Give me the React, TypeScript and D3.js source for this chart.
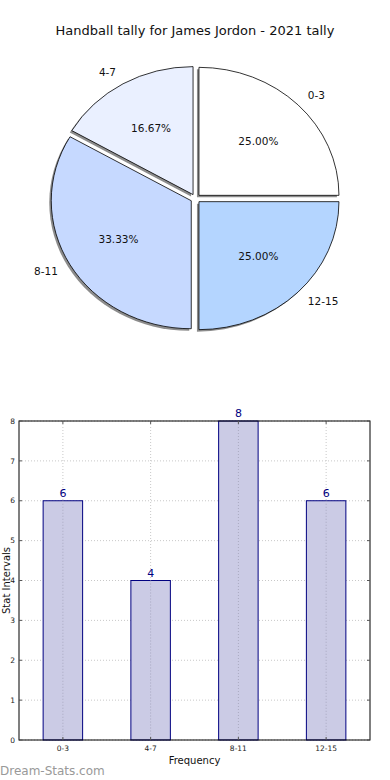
import { useEffect, useRef } from 'react'
import * as d3 from 'd3'

const categories = ['0-3', '4-7', '8-11', '12-15']
const counts = [6, 4, 8, 6]
const pieColors = ['#ffffff', '#eaf0ff', '#c6d9ff', '#b4d5ff']
const yTicks = [0, 1, 2, 3, 4, 5, 6, 7, 8]

const W = 390
const H = 780
const FONT = 'DejaVu Sans, sans-serif'

export default function App() {
  const svgRef = useRef<SVGSVGElement>(null)

  useEffect(() => {
    if (!svgRef.current) return
    const svg = d3.select(svgRef.current)
    svg.selectAll('*').remove()

    // Title
    svg.append('text')
      .attr('x', 195).attr('y', 35)
      .attr('text-anchor', 'middle')
      .attr('font-size', 13)
      .attr('fill', '#111')
      .text('Handball tally for James Jordon - 2021 tally')

    // Pie (elliptical, matplotlib-like: starts at 3 o'clock, counterclockwise)
    const cx = 195.5
    const cy = 198.5
    const rx = 140
    const ry = 128
    const explode = 0.035
    const total = d3.sum(counts)

    const pie = d3.pie<number>()
      .sort(null)
      .startAngle(Math.PI / 2)
      .endAngle(Math.PI / 2 - 2 * Math.PI)
    const arcs = pie(counts)
    const arc = d3.arc<d3.PieArcDatum<number>>().innerRadius(0).outerRadius(1)

    const pg = svg.append('g')
    // shadows first
    arcs.forEach((a) => {
      const m = (a.startAngle + a.endAngle) / 2
      const dx = Math.sin(m) * explode * rx
      const dy = -Math.cos(m) * explode * ry
      pg.append('path')
        .attr('d', arc(a)!)
        .attr('transform', `translate(${cx + dx - 2},${cy + dy + 2}) scale(${rx},${ry})`)
        .attr('fill', '#7f7f7f')
        .attr('opacity', 0.9)
    })
    arcs.forEach((a, i) => {
      const m = (a.startAngle + a.endAngle) / 2
      const dx = Math.sin(m) * explode * rx
      const dy = -Math.cos(m) * explode * ry
      pg.append('path')
        .attr('d', arc(a)!)
        .attr('transform', `translate(${cx + dx},${cy + dy}) scale(${rx},${ry})`)
        .attr('fill', pieColors[i])
        .attr('stroke', '#000')
        .attr('stroke-width', 0.8)
        .attr('vector-effect', 'non-scaling-stroke')

      const ux = Math.sin(m)
      const uy = -Math.cos(m)
      pg.append('text')
        .attr('x', cx + dx + ux * 1.1 * rx)
        .attr('y', cy + dy + uy * 1.1 * ry)
        .attr('dy', '0.35em')
        .attr('text-anchor', ux > 0 ? 'start' : 'end')
        .attr('font-size', 10.5)
        .attr('fill', '#111')
        .text(categories[i])

      pg.append('text')
        .attr('x', cx + dx + ux * 0.6 * rx)
        .attr('y', cy + dy + uy * 0.6 * ry)
        .attr('dy', '0.35em')
        .attr('text-anchor', 'middle')
        .attr('font-size', 10.5)
        .attr('fill', '#111')
        .text(`${((counts[i] / total) * 100).toFixed(2)}%`)
    })

    // Bar chart
    const left = 19
    const right = 370
    const top = 421
    const bottom = 740

    const x = d3.scaleLinear().domain([-0.5, categories.length - 0.5]).range([left, right])
    const y = d3.scaleLinear().domain([0, 8]).range([bottom, top])
    const bw = 0.45

    const bg = svg.append('g')

    // grid
    bg.selectAll('line.hgrid')
      .data(yTicks)
      .join('line')
      .attr('x1', left).attr('x2', right)
      .attr('y1', (d) => y(d)).attr('y2', (d) => y(d))
      .attr('stroke', '#c8c8c8')
      .attr('stroke-dasharray', '1 2')
    bg.selectAll('line.vgrid')
      .data(categories)
      .join('line')
      .attr('x1', (_, i) => x(i)).attr('x2', (_, i) => x(i))
      .attr('y1', top).attr('y2', bottom)
      .attr('stroke', '#c8c8c8')
      .attr('stroke-dasharray', '1 2')

    // bars
    bg.selectAll('rect.bar')
      .data(counts)
      .join('rect')
      .attr('x', (_, i) => x(i - bw / 2))
      .attr('y', (d) => y(d))
      .attr('width', x(bw) - x(0))
      .attr('height', (d) => bottom - y(d))
      .attr('fill', '#cbcbe5')
      .attr('stroke', '#000080')
      .attr('stroke-width', 1)

    // vertical grid shows through the bars in the reference
    bg.selectAll('line.vgrid2')
      .data(categories)
      .join('line')
      .attr('x1', (_, i) => x(i)).attr('x2', (_, i) => x(i))
      .attr('y1', (_, i) => y(counts[i])).attr('y2', bottom)
      .attr('stroke', '#a9a9c0')
      .attr('stroke-dasharray', '1 2')

    // value labels
    bg.selectAll('text.val')
      .data(counts)
      .join('text')
      .attr('x', (_, i) => x(i))
      .attr('y', (d) => y(d) - 4)
      .attr('text-anchor', 'middle')
      .attr('font-size', 11)
      .attr('fill', '#000080')
      .text((d) => d)

    // frame
    bg.append('rect')
      .attr('x', left).attr('y', top)
      .attr('width', right - left).attr('height', bottom - top)
      .attr('fill', 'none')
      .attr('stroke', '#000')
      .attr('stroke-width', 1)

    // ticks
    yTicks.forEach((t) => {
      bg.append('line').attr('x1', left).attr('x2', left + 3).attr('y1', y(t)).attr('y2', y(t)).attr('stroke', '#555')
      bg.append('line').attr('x1', right - 3).attr('x2', right).attr('y1', y(t)).attr('y2', y(t)).attr('stroke', '#555')
    })
    categories.forEach((_, i) => {
      bg.append('line').attr('x1', x(i)).attr('x2', x(i)).attr('y1', bottom - 3).attr('y2', bottom).attr('stroke', '#555')
      bg.append('line').attr('x1', x(i)).attr('x2', x(i)).attr('y1', top).attr('y2', top + 3).attr('stroke', '#555')
    })

    bg.selectAll('text.ytick')
      .data(yTicks)
      .join('text')
      .attr('x', left - 4)
      .attr('y', (d) => y(d))
      .attr('dy', '0.35em')
      .attr('text-anchor', 'end')
      .attr('font-size', 7.5)
      .attr('fill', '#222')
      .text((d) => d)

    bg.selectAll('text.xtick')
      .data(categories)
      .join('text')
      .attr('x', (_, i) => x(i))
      .attr('y', bottom + 11)
      .attr('text-anchor', 'middle')
      .attr('font-size', 7.5)
      .attr('fill', '#222')
      .text((d) => d)

    svg.append('text')
      .attr('x', (left + right) / 2)
      .attr('y', 764)
      .attr('text-anchor', 'middle')
      .attr('font-size', 10)
      .attr('fill', '#111')
      .text('Frequency')

    svg.append('text')
      .attr('transform', `translate(6,${(top + bottom) / 2}) rotate(-90)`)
      .attr('text-anchor', 'middle')
      .attr('dy', '0.35em')
      .attr('font-size', 10)
      .attr('fill', '#111')
      .text('Stat Intervals')

    svg.append('text')
      .attr('x', 0)
      .attr('y', 775)
      .attr('font-size', 12)
      .attr('fill', '#999')
      .text('Dream-Stats.com')
  }, [])

  return (
    <svg
      ref={svgRef}
      width={W}
      height={H}
      style={{ position: 'absolute', left: 0, top: 0, display: 'block', background: '#fff', fontFamily: FONT }}
    />
  )
}
